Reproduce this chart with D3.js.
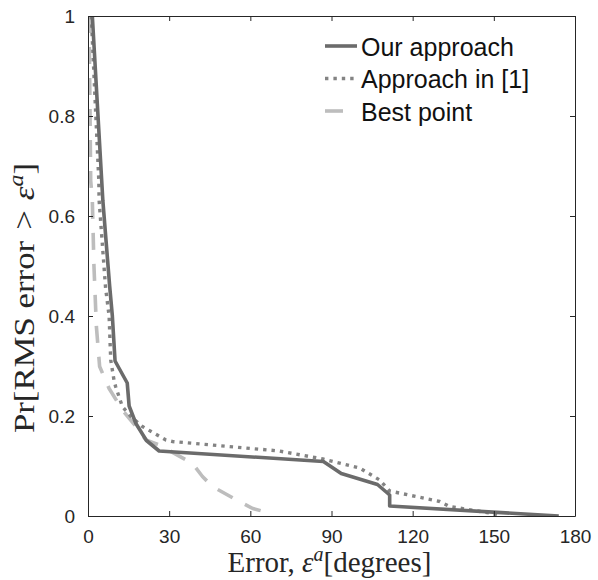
<!DOCTYPE html>
<html>
<head>
<meta charset="utf-8">
<script src="https://cdn.jsdelivr.net/npm/d3@7"></script>
<style>
  html, body { margin: 0; padding: 0; background: #fff; }
  svg { display: block; }
</style>
</head>
<body>
<svg id="chart" width="598" height="580"></svg>
<script>
// Exceedance curves: Pr[RMS error > eps] against the error threshold eps (degrees)
const ourErr   = [1.6, 3.7, 5.5, 8.0, 9.0, 10.0, 14.5, 15.2, 17.7, 21.6, 26.3, 87.0, 93.6, 107.0, 111.5, 111.5, 174.0];
const ourProb  = [1.0, 0.8, 0.63, 0.46, 0.40, 0.31, 0.266, 0.22, 0.185, 0.151, 0.13, 0.109, 0.085, 0.063, 0.042, 0.02, 0.0];

const refErr   = [1.2, 4.0, 4.1, 6.5, 7.8, 8.4, 9.6, 10.2, 12.7, 15.8, 20.1, 28.8, 31.2, 70.7, 86.8, 90.5, 100.4, 107.8, 111.5, 130.0, 133.7, 149.7, 152.2];
const refProb  = [1.0, 0.67, 0.632, 0.456, 0.40, 0.312, 0.272, 0.259, 0.219, 0.199, 0.179, 0.152, 0.149, 0.13, 0.114, 0.109, 0.096, 0.072, 0.05, 0.029, 0.019, 0.005, 0.0];

const bestErr  = [0.4, 1.0, 1.6, 2.2, 3.1, 4.3, 7.8, 12.7, 17.7, 21.4, 26.3, 38.6, 42.3, 46.0, 55.9, 60.9, 67.7];
const bestProb = [1.0, 0.67, 0.632, 0.5, 0.379, 0.299, 0.255, 0.212, 0.179, 0.152, 0.142, 0.105, 0.079, 0.059, 0.029, 0.015, 0.005];

const seriesNames = ["Our approach", "Approach in [1]", "Best point"];
const xTicks = [0, 30, 60, 90, 120, 150, 180];
const yTicks = [0, 0.2, 0.4, 0.6, 0.8, 1];

const svg = d3.select("#chart");
const mLeft = 88, mRight = 575, mTop = 16, mBottom = 516;

const x = d3.scaleLinear().domain([0, 180]).range([mLeft, mRight]);
const y = d3.scaleLinear().domain([0, 1]).range([mBottom, mTop]);

const axisColor = "#262626";
const tickFont = "Liberation Sans, Arial, Helvetica, sans-serif";

svg.append("defs").append("clipPath").attr("id", "plotClip")
  .append("rect").attr("x", mLeft).attr("y", mTop)
  .attr("width", mRight - mLeft).attr("height", mBottom - mTop);

const styles = [
  { color: "#6b6b6b", dash: null, width: 3.6 },
  { color: "#838383", dash: "3.4,5", width: 3.4 },
  { color: "#bdbdbd", dash: "17,14", width: 3.6 }
];

const series = [
  d3.zip(ourErr, ourProb),
  d3.zip(refErr, refProb),
  d3.zip(bestErr, bestProb)
];

const line = d3.line().x(d => x(d[0])).y(d => y(d[1]));

const plot = svg.append("g").attr("clip-path", "url(#plotClip)");
// draw back-to-front so the solid curve sits on top
[2, 1, 0].forEach(i => {
  plot.append("path")
    .datum(series[i])
    .attr("d", line)
    .attr("fill", "none")
    .attr("stroke", styles[i].color)
    .attr("stroke-width", styles[i].width)
    .attr("stroke-dasharray", styles[i].dash)
    .attr("stroke-linejoin", "round");
});

// Axes (box with inward ticks on all sides)
function styleAxis(g) {
  g.select(".domain").attr("stroke", axisColor).attr("stroke-width", 1);
  g.selectAll(".tick line").attr("stroke", axisColor).attr("stroke-width", 1);
  g.selectAll(".tick text").attr("fill", axisColor)
    .attr("font-family", tickFont).attr("font-size", 19);
}

svg.append("g").attr("transform", `translate(0,${mBottom})`)
  .call(d3.axisBottom(x).tickValues(xTicks).tickFormat(d3.format("d"))
        .tickSizeInner(-5).tickSizeOuter(0).tickPadding(14))
  .call(styleAxis);

svg.append("g").attr("transform", `translate(0,${mTop})`)
  .call(d3.axisTop(x).tickValues(xTicks).tickFormat("")
        .tickSizeInner(-5).tickSizeOuter(0))
  .call(styleAxis);

svg.append("g").attr("transform", `translate(${mLeft},0)`)
  .call(d3.axisLeft(y).tickValues(yTicks).tickFormat(d => d === 0 || d === 1 ? d3.format("d")(d) : d3.format(".1f")(d))
        .tickSizeInner(-5).tickSizeOuter(0).tickPadding(13))
  .call(styleAxis);

svg.append("g").attr("transform", `translate(${mRight},0)`)
  .call(d3.axisRight(y).tickValues(yTicks).tickFormat("")
        .tickSizeInner(-5).tickSizeOuter(0))
  .call(styleAxis);

// Axis titles (math-style serif)
const serif = "Liberation Serif, Times New Roman, serif";
const xt = svg.append("text")
  .attr("x", (mLeft + mRight) / 2 - 2).attr("y", 572)
  .attr("text-anchor", "middle")
  .attr("font-family", serif).attr("font-size", 29).attr("fill", axisColor);
xt.append("tspan").text("Error, ");
xt.append("tspan").attr("font-style", "italic").text("ε");
xt.append("tspan").attr("font-style", "italic").attr("font-size", 20).attr("dy", -11).text("a");
xt.append("tspan").attr("dy", 11).text("[degrees]");

const yt = svg.append("text")
  .attr("transform", "translate(34,298) rotate(-90) scale(1.2,1)")
  .attr("text-anchor", "middle")
  .attr("font-family", serif).attr("font-size", 29).attr("fill", axisColor);
yt.append("tspan").text("Pr[RMS error");
yt.append("tspan").attr("dx", 2).text(" > ");
yt.append("tspan").attr("dx", 1).attr("font-style", "italic").text("ε");
yt.append("tspan").attr("font-style", "italic").attr("font-size", 20).attr("dy", -11).text("a");
yt.append("tspan").attr("dy", 11).text("]");

// Legend
const legend = svg.append("g");
seriesNames.forEach((name, i) => {
  const ly = 46 + i * 32.5;
  legend.append("line")
    .attr("x1", 325).attr("x2", 357).attr("y1", ly).attr("y2", ly)
    .attr("stroke", styles[i].color)
    .attr("stroke-width", styles[i].width)
    .attr("stroke-dasharray", i === 2 ? "18,20" : styles[i].dash);
  legend.append("text")
    .attr("x", 361).attr("y", ly + 9.5)
    .attr("font-family", tickFont).attr("font-size", 25)
    .attr("fill", "#111").text(name);
});
</script>
</body>
</html>
